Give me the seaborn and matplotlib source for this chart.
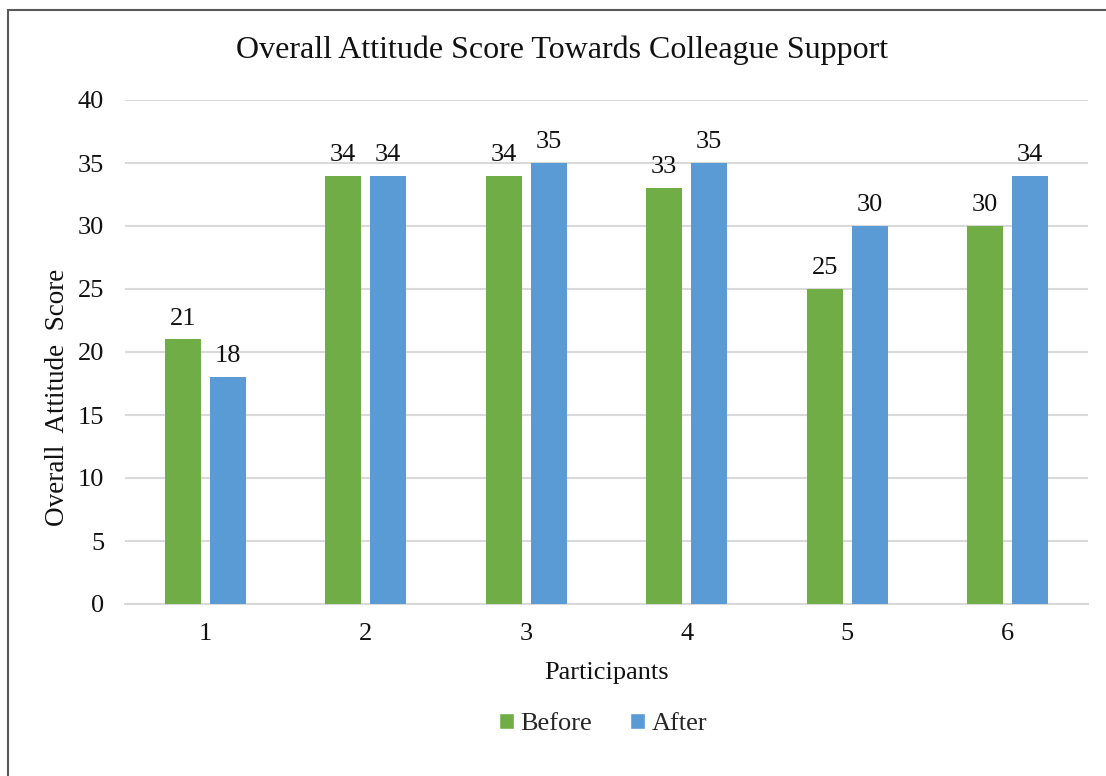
import pandas as pd
import matplotlib.pyplot as plt
import seaborn as sns
from matplotlib.patches import Rectangle, Patch

# data
participants = ["1", "2", "3", "4", "5", "6"]
before = [21, 34, 34, 33, 25, 30]
after = [18, 34, 35, 35, 30, 34]
series = ["Before", "After"]
colors = ["#70AD47", "#5B9BD5"]

df = pd.DataFrame({
    "Participants": participants * 2,
    "Score": before + after,
    "Series": ["Before"] * len(before) + ["After"] * len(after),
})

sns.set_theme(style="white")
plt.rcParams["font.family"] = ["Liberation Serif", "DejaVu Serif"]

fig = plt.figure(figsize=(11.06, 7.76), dpi=100)
ax = fig.add_axes([125 / 1106, 1 - 604 / 776, (1088 - 125) / 1106, (604 - 100) / 776])

sns.barplot(data=df, x="Participants", y="Score", hue="Series", order=participants,
            hue_order=series, palette=colors, width=0.561, gap=0.2,
            saturation=1, linewidth=0, ax=ax, legend=False, zorder=3)

for cont in ax.containers:
    ax.bar_label(cont, fmt="%d", padding=7, fontsize=19, color="#111111")

ax.set_ylim(0, 40)
ax.set_yticks(range(0, 41, 5))
ax.set_xlim(-0.5, len(participants) - 0.5)
ax.yaxis.grid(True, color="#D9D9D9", linewidth=1.5, zorder=0)
for s in ["top", "right", "left"]:
    ax.spines[s].set_visible(False)
ax.spines["bottom"].set_color("#D9D9D9")
ax.spines["bottom"].set_linewidth(1.5)
ax.tick_params(axis="both", length=0, labelsize=19, colors="#111111")
ax.tick_params(axis="y", pad=15)
ax.tick_params(axis="x", pad=14)

ax.set_xlabel("Participants", fontsize=19, color="#111111", labelpad=12)
ax.set_ylabel("Overall  Attitude  Score", fontsize=19.5, color="#111111")
# the axis title sits a little below the middle, as in the original
ax.yaxis.set_label_coords(-0.0706, 0.41)
ax.yaxis.label.set_verticalalignment("center")
fig.text(562 / 1106, 1 - 50 / 776, "Overall Attitude Score Towards Colleague Support",
         ha="center", va="center", fontsize=23, color="#111111")

handles = [Patch(facecolor=c, label=l) for c, l in zip(colors, series)]
fig.legend(handles=handles, loc="center", bbox_to_anchor=(603 / 1106, 1 - 724 / 776),
           ncol=2, frameon=False, fontsize=19, handlelength=0.55, handleheight=0.55,
           handletextpad=0.25, columnspacing=1.45)

# outer chart border
fig.add_artist(Rectangle((8 / 1106, -0.1), 1.2, (1 - 10 / 776) + 0.1,
                         transform=fig.transFigure, fill=False,
                         edgecolor="#595959", linewidth=1.5))

fig.savefig("out.png", dpi=100)
